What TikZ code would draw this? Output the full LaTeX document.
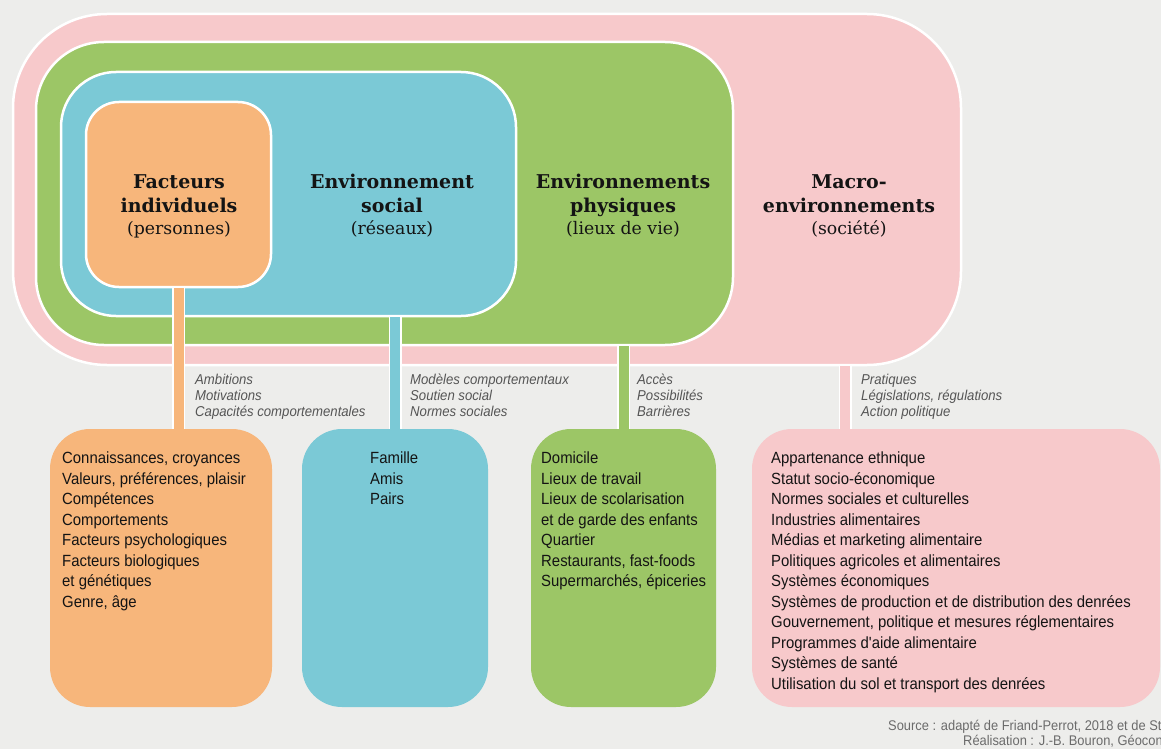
\documentclass[tikz,border=0pt]{standalone}
\usepackage{fontspec}
\setmainfont{DejaVu Serif}
\newfontfamily\bodyfont[FakeStretch=0.92]{Liberation Sans}
\definecolor{bgc}{HTML}{EDEDEB}
\definecolor{pinkc}{HTML}{F7C9CB}
\definecolor{greenc}{HTML}{9CC666}
\definecolor{bluec}{HTML}{7BC9D6}
\definecolor{orangec}{HTML}{F7B67B}
\definecolor{txt}{HTML}{141414}
\definecolor{labc}{HTML}{555555}
\definecolor{srcc}{HTML}{6B6B6B}
\newcommand{\parfont}{\mdseries\fontsize{17.3}{20}\selectfont}
\begin{document}
\begin{tikzpicture}[x=1pt,y=-1pt,
  layer/.style={rectangle, rounded corners=#1, draw=white, line width=2.5pt, inner sep=0pt},
  botbox/.style={rectangle, rounded corners=40pt, inner sep=0pt, minimum height=278pt},
  conn/.style={line width=10pt, draw=#1, preaction={draw=white, line width=13pt}},
  title/.style={font=\fontsize{19}{24.5}\selectfont\bfseries, anchor=base, inner sep=0pt, text=txt},
  lab/.style={font=\bodyfont\itshape\fontsize{14.3}{16}\selectfont, text=labc, anchor=base west, inner sep=0pt},
  body/.style={font=\bodyfont\fontsize{16.2}{20.5}\selectfont, text=txt, anchor=base west, inner sep=0pt},
  src/.style={font=\bodyfont\fontsize{14}{15}\selectfont, text=srcc, anchor=base west, inner sep=0pt}]
\useasboundingbox (0,0) rectangle (1161,749);
\clip (0,0) rectangle (1161,749);
\fill[bgc] (0,0) rectangle (1161,749);

% nested boxes
\node[layer=94pt, fill=pinkc, minimum width=948pt, minimum height=351pt] (macro) at (487,189.5) {};
\node[layer=68pt, fill=greenc, minimum width=697pt, minimum height=303pt] (phys) at (384.5,193.5) {};
\node[layer=55pt, fill=bluec, minimum width=455pt, minimum height=244pt] (social) at (288.5,194) {};
\node[layer=33pt, fill=orangec, minimum width=185pt, minimum height=185pt] (indiv) at (178.5,194.5) {};

% lower boxes
\node[botbox, fill=orangec, minimum width=222pt] (indivL) at (161,568) {};
\node[botbox, fill=bluec, minimum width=186pt] (socialL) at (395,568) {};
\node[botbox, fill=greenc, minimum width=185pt] (physL) at (623.5,568) {};
\node[botbox, fill=pinkc, minimum width=408pt] (macroL) at (956,568) {};
\coordinate (macroc) at (845,429);

% connectors
\draw[conn=orangec] (indiv.south) -- (indiv.south |- indivL.north);
\draw[conn=bluec] (socialL.north |- social.south) -- (socialL.north);
\draw[conn=greenc] (physL.north |- phys.south) -- (physL.north);
\draw[conn=pinkc] (macroc |- macro.south) -- (macroc);

% titles
\node[title] (tindiv) at (179,188) {\begin{tabular}[t]{@{}c@{}}Facteurs\\individuels\\[-2.5pt]\parfont (personnes)\end{tabular}};
\node[title] (tsocial) at (392,188) {\begin{tabular}[t]{@{}c@{}}Environnement\\social\\[-2.5pt]\parfont (réseaux)\end{tabular}};
\node[title] (tphys) at (623,188) {\begin{tabular}[t]{@{}c@{}}Environnements\\physiques\\[-2.5pt]\parfont (lieux de vie)\end{tabular}};
\node[title] (tmacro) at (849,188) {\begin{tabular}[t]{@{}c@{}}Macro-\\environnements\\[-2.5pt]\parfont (société)\end{tabular}};

% connector labels
\node[lab] (lindiv) at (195,384.5) {\begin{tabular}[t]{@{}l@{}}Ambitions\\Motivations\\Capacités comportementales\end{tabular}};
\node[lab] (lsocial) at (410,384.5) {\begin{tabular}[t]{@{}l@{}}Modèles comportementaux\\Soutien social\\Normes sociales\end{tabular}};
\node[lab] (lphys) at (637,384.5) {\begin{tabular}[t]{@{}l@{}}Accès\\Possibilités\\Barrières\end{tabular}};
\node[lab] (lmacro) at (861,384.5) {\begin{tabular}[t]{@{}l@{}}Pratiques\\Législations, régulations\\Action politique\end{tabular}};

% box contents
\node[body] (bindiv) at (62,463.5) {\begin{tabular}[t]{@{}l@{}}Connaissances, croyances\\Valeurs, préférences, plaisir\\Compétences\\Comportements\\Facteurs psychologiques\\Facteurs biologiques\\et génétiques\\Genre, âge\end{tabular}};
\node[body] (bsocial) at (370,463.5) {\begin{tabular}[t]{@{}l@{}}Famille\\Amis\\Pairs\end{tabular}};
\node[body] (bphys) at (541,463.5) {\begin{tabular}[t]{@{}l@{}}Domicile\\Lieux de travail\\Lieux de scolarisation\\et de garde des enfants\\Quartier\\Restaurants, fast-foods\\Supermarchés, épiceries\end{tabular}};
\node[body] (bmacro) at (771,463.5) {\begin{tabular}[t]{@{}l@{}}Appartenance ethnique\\Statut socio-économique\\Normes sociales et culturelles\\Industries alimentaires\\Médias et marketing alimentaire\\Politiques agricoles et alimentaires\\Systèmes économiques\\Systèmes de production et de distribution des denrées\\Gouvernement, politique et mesures réglementaires\\Programmes d'aide alimentaire\\Systèmes de santé\\Utilisation du sol et transport des denrées\end{tabular}};

% source
\node[src] (source) at (888,730.5) {Source : adapté de Friand-Perrot, 2018 et de St};
\node[src] (real) at (963,745.5) {Réalisation : J.-B. Bouron, Géocon};
\end{tikzpicture}
\end{document}
